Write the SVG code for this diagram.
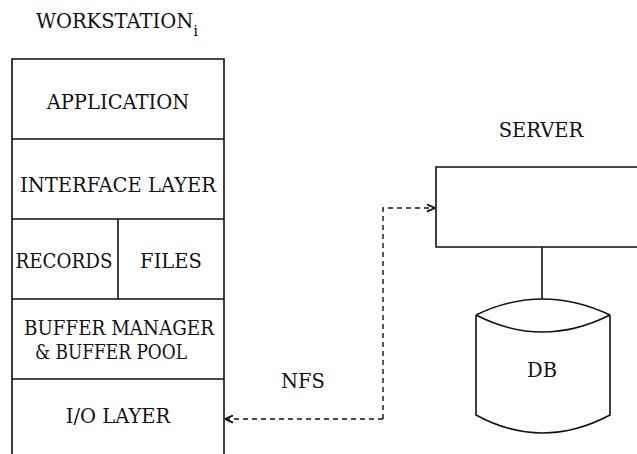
<svg xmlns="http://www.w3.org/2000/svg" width="637" height="454" viewBox="0 0 637 454">
<style>
.t{font-family:"DejaVu Serif",serif;font-size:19.5px;fill:#111;text-anchor:middle}
.s{fill:none;stroke:#111;stroke-width:1.6}
.d{fill:none;stroke:#111;stroke-width:1.4;stroke-dasharray:5,4}
</style>
<defs>
<marker id="ah" viewBox="0 0 10 10" refX="10" refY="5" markerWidth="9" markerHeight="9" markerUnits="userSpaceOnUse" orient="auto">
<path d="M1,1 L10,5 L1,9" fill="none" stroke="#111" stroke-width="2"/>
</marker>
</defs>
<rect width="637" height="454" fill="#fff"/>
<g id="workstation">
<text class="t" x="117" y="28">WORKSTATION<tspan font-size="15" dy="8">i</tspan></text>
<path class="s" d="M12,454 V59 H224 V454"/>
</g>
<g id="application">
<text class="t" x="118" y="109">APPLICATION</text>
<line class="s" x1="12" y1="139" x2="224" y2="139"/>
</g>
<g id="interface">
<text class="t" x="118" y="192">INTERFACE LAYER</text>
<line class="s" x1="12" y1="219" x2="224" y2="219"/>
</g>
<g id="records">
<text class="t" x="64" y="268" textLength="97" lengthAdjust="spacingAndGlyphs">RECORDS</text>
<line class="s" x1="118" y1="219" x2="118" y2="299"/>
</g>
<g id="files">
<text class="t" x="171" y="268">FILES</text>
</g>
<g id="buffer">
<line class="s" x1="12" y1="299" x2="224" y2="299"/>
<text class="t" x="119" y="335" textLength="190" lengthAdjust="spacingAndGlyphs">BUFFER MANAGER</text>
<text class="t" x="111" y="359" textLength="152" lengthAdjust="spacingAndGlyphs">&amp; BUFFER POOL</text>
<line class="s" x1="12" y1="379" x2="224" y2="379"/>
</g>
<g id="io">
<text class="t" x="118" y="423">I/O LAYER</text>
</g>
<g id="server">
<text class="t" x="541" y="137">SERVER</text>
<path class="s" d="M640,167 H436 V247 H640"/>
</g>
<g id="db">
<path class="s" d="M476,315 Q542,283 610,315 M476,315 Q542,349 610,315 M476,315 V415 Q542,451 610,415 V315"/>
<text class="t" x="542" y="377">DB</text>
</g>
<g id="connectors">
<line class="s" x1="542" y1="247" x2="542" y2="299"/>
<path class="d" d="M383,419 V208 H435" marker-end="url(#ah)"/>
<path class="d" d="M383,419 H225" marker-end="url(#ah)"/>
<text class="t" x="303" y="388">NFS</text>
</g>
</svg>
